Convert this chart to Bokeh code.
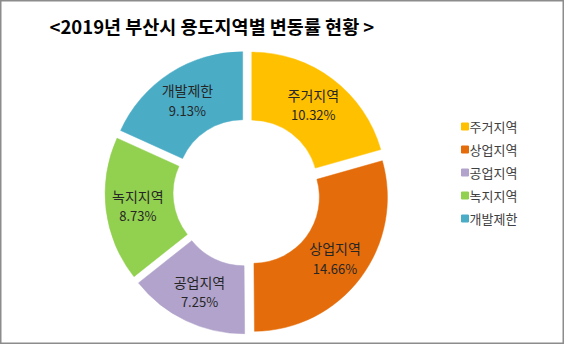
import math
from bokeh.plotting import figure
from bokeh.models import Range1d, ColumnDataSource
from bokeh.core.properties import value
from bokeh.embed import file_html
from bokeh.resources import INLINE

# ---- data ----
categories = ["주거지역", "상업지역", "공업지역", "녹지지역", "개발제한"]
shares = [10.32, 14.66, 7.25, 8.73, 9.13]
colors = ["#FFC000", "#E46C0A", "#B1A3CB", "#92D050", "#4BACC6"]
title_text = "<2019년 부산시 용도지역별 변동률 현황 >"

FONT = "Noto Sans CJK KR"
W, H = 564, 344
cx, cy = 246.5, 152.0
R_out, R_in, explode = 134.0, 66.0, 8.0
label_r = 110.0

p = figure(width=W, height=H, output_backend="svg", toolbar_location=None,
           x_range=Range1d(0, W), y_range=Range1d(0, H), min_border=0)
p.axis.visible = False
p.grid.visible = False
p.outline_line_color = "#8c8c8c"
p.outline_line_width = 2
p.background_fill_color = "white"
p.border_fill_color = "white"

total = sum(shares)
xs, ys, starts, ends, lx, ly = [], [], [], [], [], []
acc = 0.0
for v in shares:
    a1 = acc / total * 2 * math.pi
    acc += v
    a2 = acc / total * 2 * math.pi
    mid = (a1 + a2) / 2
    xs.append(cx + explode * math.sin(mid))
    ys.append(cy + explode * math.cos(mid))
    starts.append(math.pi / 2 - a1)
    ends.append(math.pi / 2 - a2)
    lx.append(cx + label_r * math.sin(mid))
    ly.append(cy + label_r * math.cos(mid))

src = ColumnDataSource(dict(x=xs, y=ys, s=starts, e=ends, c=colors,
                            lx=lx, ly=ly, name=categories,
                            pct=["%.2f%%" % v for v in shares],
                            ly1=[y + 10 for y in ly], ly2=[y - 10 for y in ly]))
p.annular_wedge(x="x", y="y", inner_radius=R_in, outer_radius=R_out,
                start_angle="s", end_angle="e", direction="clock",
                fill_color="c", line_color="c", line_width=0.5, source=src)

p.text(x="lx", y="ly1", text="name", source=src, text_font=value(FONT),
       text_font_size="14px", text_color="#262626",
       text_align="center", text_baseline="middle")
p.text(x="lx", y="ly2", text="pct", source=src, text_font=value(FONT),
       text_font_size="13px", text_color="#262626",
       text_align="center", text_baseline="middle")

# title
p.text(x=[49], y=[319], text=[title_text], text_font=value(FONT),
       text_font_size="18.5px", text_font_style="bold", text_color="black",
       text_align="left", text_baseline="middle")

# legend
leg_y = [218 - 23 * i for i in range(len(categories))]
p.scatter(x=[464.5] * len(categories), y=leg_y, marker="square", size=7,
          fill_color=colors, line_color=colors)
p.text(x=[469] * len(categories), y=leg_y, text=categories,
       text_font=value(FONT), text_font_size="13px", text_color="#404040",
       text_align="left", text_baseline="middle")

open("out.html", "w").write(file_html(p, INLINE))
